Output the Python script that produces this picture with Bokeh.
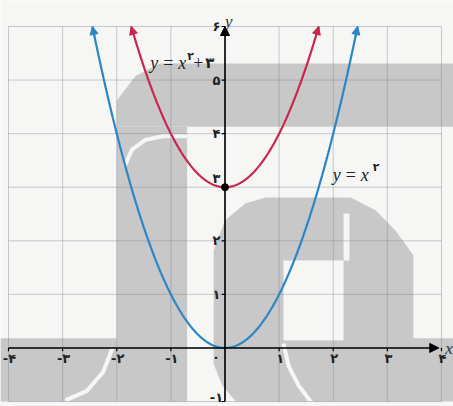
import numpy as np
from bokeh.plotting import figure
from bokeh.models import Range1d, Arrow, NormalHead
from bokeh.core.properties import value
from bokeh.embed import file_html
from bokeh.resources import INLINE

# ---- data -------------------------------------------------------------
grid_x = [-4, -3, -2, -1, 0, 1, 2, 3, 4]
grid_y = [-1, 0, 1, 2, 3, 4, 5, 6]
x_tick_values = [-4, -3, -2, -1, 1, 2, 3, 4]
x_tick_labels = ["-۴", "-۳", "-۲", "-۱", "۱", "۲", "۳", "۴"]
y_tick_values = [-1, 1, 2, 3, 4, 5, 6]
y_tick_labels = ["-۱", "۱", "۲", "۳", "۴", "۵", "۶"]
origin_label = "۰"

# y = x^2 + c for each shift c, drawn up to y = 6
curve_shifts = [0, 3]
curve_colors = ["#2b86c6", "#c8264f"]
y_top = 6
marked_x = [0]
marked_y = [3]

# ---- styling ----------------------------------------------------------
BG = "#f6f6f4"
GRID = "#6f8091"
LOGO = "#c8c8c8"
SERIF = value("Liberation Serif")
SANS = value("DejaVu Sans")

p = figure(width=453, height=406,
           x_range=Range1d(-4.148, 4.222), y_range=Range1d(-1.093, 6.485),
           output_backend="svg", toolbar_location=None,
           x_axis_location=None, y_axis_location=None,
           min_border=0, min_border_left=0, min_border_right=0,
           min_border_top=0, min_border_bottom=0,
           background_fill_color=BG, border_fill_color=BG,
           outline_line_color=None)
p.grid.visible = False

# faint background logo behind the grid
logo_xs = [
    [-1.2, 4.25, 4.25, -2.0, -2.0, -1.65],
    [-2.0, -0.7, -0.7, -2.0],
    [-4.15, -2.0, -2.0, -4.15],
    [0.2, -0.05, -0.21, -0.21, 0.0, 0.38, 0.75, 2.32, 2.78, 3.15, 3.48, 3.48, 4.25, 4.25],
]
logo_ys = [
    [5.31, 5.31, 4.13, 4.13, 4.62, 5.08],
    [4.13, 4.13, -1.0, -1.0],
    [0.18, 0.18, -1.0, -1.0],
    [-1.0, -0.7, -0.3, 1.82, 2.38, 2.70, 2.81, 2.81, 2.57, 2.19, 1.73, 0.18, 0.18, -1.0],
]
p.patches(logo_xs, logo_ys, fill_color=LOGO, line_color=None)
# cut-outs of the logo
p.patches([[1.08, 2.19, 2.19, 1.08], [2.19, 2.30, 2.30, 2.19]],
          [[0.14, 0.14, 1.63, 1.63], [1.63, 1.63, 2.51, 2.51]],
          fill_color=BG, line_color=None)
for lx, ly in [
    ([-1.85, -1.72, -1.48, -1.15, -0.7], [3.40, 3.70, 3.88, 3.95, 3.95]),
    ([-2.95, -2.55, -2.25, -2.08], [-0.98, -0.80, -0.45, 0.0]),
    ([1.08, 1.18, 1.36, 1.62], [0.08, -0.35, -0.70, -1.05]),
]:
    p.line(lx, ly, line_color=BG, line_width=4)

# grid
p.segment(x0=grid_x, y0=[-1] * len(grid_x), x1=grid_x, y1=[6] * len(grid_x),
          line_color=GRID, line_alpha=0.38, line_width=1)
p.segment(x0=[-4] * len(grid_y), y0=grid_y, x1=[4] * len(grid_y), y1=grid_y,
          line_color=GRID, line_alpha=0.38, line_width=1)

# axes with arrow heads
p.add_layout(Arrow(end=NormalHead(size=9, fill_color="black", line_color="black"),
                   x_start=-4, y_start=0, x_end=3.95, y_end=0,
                   line_color="black", line_width=1.6))
p.add_layout(Arrow(end=NormalHead(size=9, fill_color="black", line_color="black"),
                   x_start=0, y_start=-1, x_end=0, y_end=6.0,
                   line_color="black", line_width=1.6))

# tick marks
p.segment(x0=x_tick_values, y0=[0] * len(x_tick_values), x1=x_tick_values,
          y1=[-0.06] * len(x_tick_values), line_color="black", line_width=1.2)
p.segment(x0=[0] * len(y_tick_values), y0=y_tick_values,
          x1=[-0.06] * len(y_tick_values), y1=y_tick_values,
          line_color="black", line_width=1.2)

# tick labels
TICK_SIZE = "13px"
p.text(x=x_tick_values, y=[0] * len(x_tick_values), text=x_tick_labels,
       x_offset=1, y_offset=11, text_align="center", text_baseline="middle",
       text_font=SANS, text_font_style="bold", text_font_size=TICK_SIZE,
       text_color="#222222")
p.text(x=[0], y=[0], text=[origin_label], x_offset=-9, y_offset=10,
       text_align="center", text_baseline="middle",
       text_font=SANS, text_font_style="bold", text_font_size=TICK_SIZE,
       text_color="#222222")
y_nudge = {3: -9, -1: -4}
p.text(x=[0] * len(y_tick_values), y=y_tick_values, text=y_tick_labels,
       x_offset=-8.5, y_offset=[y_nudge.get(v, 0) for v in y_tick_values],
       text_align="center", text_baseline="middle",
       text_font=SANS, text_font_style="bold", text_font_size=TICK_SIZE,
       text_color="#222222")

# axis names
p.text(x=[4.07], y=[0], text=["x"], y_offset=1, text_align="left",
       text_baseline="middle", text_font=SERIF, text_font_style="italic",
       text_font_size="17px", text_color="#333333")
p.text(x=[0.0], y=[6.09], text=["y"], text_align="left",
       text_baseline="alphabetic", text_font=SERIF, text_font_style="italic",
       text_font_size="17px", text_color="#333333")

# the two parabolas with arrow heads at both ends
for c, color in zip(curve_shifts, curve_colors):
    half = np.sqrt(y_top - c)
    xs = np.linspace(-half, half, 300)
    ys = xs ** 2 + c
    p.line(xs, ys, line_color=color, line_width=2.2)
    for sgn in (-1, 1):
        xe = sgn * half
        xb = sgn * (half - 0.04)
        p.add_layout(Arrow(end=NormalHead(size=8, fill_color=color, line_color=color),
                           x_start=xb, y_start=xb ** 2 + c, x_end=xe, y_end=xe ** 2 + c,
                           line_color=color, line_width=2))

p.scatter(marked_x, marked_y, size=7, fill_color="black", line_color="black")


# equation labels built from pieces (text, dx, dy, font, style, size)
def equation(ax, ay, pieces):
    for txt, dx, dy, font, style, size in pieces:
        p.text(x=[ax], y=[ay], text=[txt], x_offset=dx, y_offset=dy,
               text_align="left", text_baseline="alphabetic",
               text_font=font, text_font_style=style, text_font_size=size,
               text_color="#222222")


equation(-1.4, 5.325, [
    ("y", 1, 0, SERIF, "italic", "18px"),
    ("=", 14, 0, SERIF, "normal", "18px"),
    ("x", 29, 0, SERIF, "italic", "18px"),
    ("۲", 38, -6, SANS, "bold", "11px"),
    ("+", 44, 0, SERIF, "normal", "18px"),
    ("۳", 56, 0, SANS, "bold", "15px"),
])
equation(1.99, 3.22, [
    ("y", 0, 0, SERIF, "italic", "18px"),
    ("=", 13, 0, SERIF, "normal", "18px"),
    ("x", 28, 0, SERIF, "italic", "18px"),
    ("۲", 40, -8, SANS, "bold", "11px"),
])

open("out.html", "w").write(file_html(p, INLINE))
